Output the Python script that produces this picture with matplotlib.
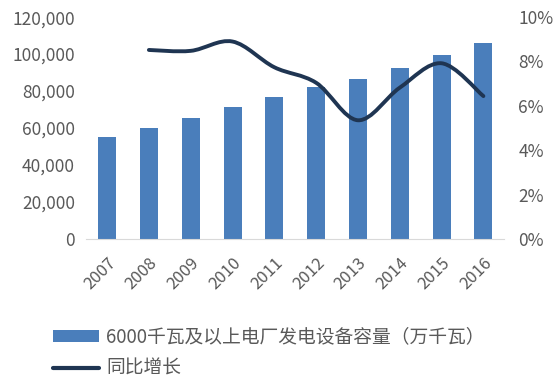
import numpy as np
import matplotlib.pyplot as plt
from matplotlib.path import Path
from matplotlib.patches import PathPatch
from matplotlib.lines import Line2D
from matplotlib.ticker import FuncFormatter

plt.rcParams['font.family'] = ['Noto Sans CJK SC', 'DejaVu Sans']

years = ['2007', '2008', '2009', '2010', '2011', '2012', '2013', '2014', '2015', '2016']
capacity = [55400, 60100, 65500, 71300, 76700, 82200, 86300, 92300, 99400, 105900]
growth_years = ['2008', '2009', '2010', '2011', '2012', '2013', '2014', '2015', '2016']
growth = [8.52, 8.48, 8.9, 7.74, 7.04, 5.35, 6.82, 7.92, 6.44]

bar_color = '#4a7ebb'
line_color = '#1f3552'
text_color = '#595959'

fig = plt.figure(figsize=(5.56, 3.81), dpi=100)
ax = fig.add_axes([0.155, 0.373, 0.752, 0.582])
ax2 = ax.twinx()

x = np.arange(len(years))
bars = ax.bar(x, capacity, 0.43, color=bar_color)
ax.set_xlim(-0.5, len(years) - 0.5)
ax.set_ylim(0, 120000)
ax.set_yticks(np.arange(0, 120001, 20000))
ax.yaxis.set_major_formatter(FuncFormatter(lambda v, p: '{:,.0f}'.format(v)))
ax.set_xticks(x)
ax.set_xticklabels(years, rotation=45, ha='right', rotation_mode='anchor')

# smoothed line (Excel style bezier through the points)
gx = [years.index(y) for y in growth_years]
pts = list(zip(gx, growth))
verts = [pts[0]]
codes = [Path.MOVETO]
for i in range(len(pts) - 1):
    p0 = pts[i - 1] if i > 0 else pts[i]
    p1 = pts[i]
    p2 = pts[i + 1]
    p3 = pts[i + 2] if i + 2 < len(pts) else pts[i + 1]
    c1 = (p1[0] + (p2[0] - p0[0]) / 6, p1[1] + (p2[1] - p0[1]) / 6)
    c2 = (p2[0] - (p3[0] - p1[0]) / 6, p2[1] - (p3[1] - p1[1]) / 6)
    verts += [c1, c2, p2]
    codes += [Path.CURVE4] * 3
ax2.add_patch(PathPatch(Path(verts, codes), facecolor='none', edgecolor=line_color,
                        lw=2.8, capstyle='round', joinstyle='round'))
ax2.set_ylim(0, 10)
ax2.set_yticks(np.arange(0, 11, 2))
ax2.yaxis.set_major_formatter(FuncFormatter(lambda v, p: '{:.0f}%'.format(v)))

for a in (ax, ax2):
    for s in a.spines.values():
        s.set_visible(False)
    a.tick_params(length=0, labelsize=12.5, labelcolor=text_color)
ax.spines['bottom'].set_visible(True)
ax.spines['bottom'].set_color('#d9d9d9')
ax.tick_params(axis='y', pad=8)
ax2.tick_params(axis='y', pad=10)
ax.tick_params(axis='x', pad=11, labelsize=12)

handles = [bars, Line2D([0], [0], color=line_color, lw=3, solid_capstyle='round')]
labels = ['6000千瓦及以上电厂发电设备容量（万千瓦）', '同比增长']
fig.legend(handles, labels, loc='center left', bbox_to_anchor=(0.095, 0.074),
           frameon=False, fontsize=13.5, labelcolor=text_color, handlelength=2.45,
           handleheight=0.6, handletextpad=0.4, labelspacing=0.55, borderaxespad=0,
           borderpad=0)

fig.savefig('out.png', dpi=100)
